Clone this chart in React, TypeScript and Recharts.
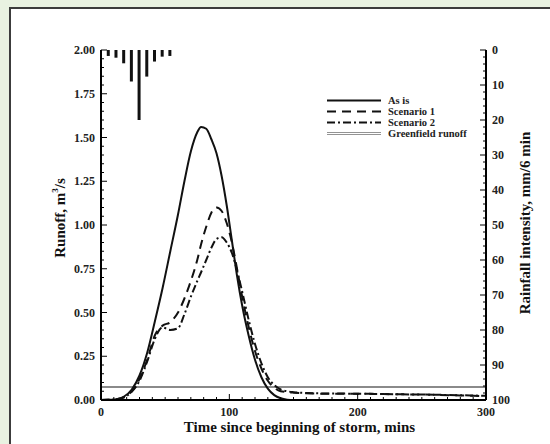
import { ComposedChart, Line, Bar, XAxis, YAxis, Legend } from 'recharts'

const FONT = '"Liberation Serif", "Times New Roman", serif'

// sampling times (min) for the runoff hydrographs
const runoffTime = [0, 6, 12, 18, 24, 30, 36, 42, 48, 54, 60, 65, 70, 75, 78, 82, 86, 90, 94, 98, 102, 106, 110, 115, 120, 125, 130, 135, 140, 145, 150, 160, 180, 200, 220, 240, 260, 280, 300]

// runoff, m3/s
const asIs = [0, 0.001, 0.005, 0.02, 0.06, 0.14, 0.27, 0.45, 0.64, 0.85, 1.06, 1.25, 1.42, 1.53, 1.56, 1.55, 1.49, 1.41, 1.28, 1.11, 0.91, 0.71, 0.54, 0.37, 0.23, 0.13, 0.065, 0.028, 0.01, 0.002, 0, 0, 0, 0, 0, 0, 0, 0, 0]
const scenario1 = [0, 0.001, 0.004, 0.017, 0.05, 0.12, 0.23, 0.37, 0.425, 0.445, 0.5, 0.58, 0.68, 0.8, 0.89, 0.99, 1.07, 1.1, 1.08, 1.01, 0.9, 0.75, 0.59, 0.42, 0.28, 0.18, 0.11, 0.07, 0.05, 0.045, 0.042, 0.038, 0.036, 0.036, 0.034, 0.032, 0.03, 0.026, 0.022]
const scenario2 = [0, 0.001, 0.004, 0.015, 0.048, 0.11, 0.22, 0.35, 0.415, 0.4, 0.41, 0.49, 0.59, 0.68, 0.73, 0.8, 0.87, 0.92, 0.93, 0.9, 0.84, 0.74, 0.62, 0.46, 0.32, 0.21, 0.13, 0.085, 0.06, 0.05, 0.045, 0.04, 0.037, 0.036, 0.034, 0.032, 0.03, 0.027, 0.024]

const greenfieldTime = [0, 300]
const greenfield = [0.075, 0.075]

// rainfall, mm/6 min
const rainTime = [6, 12, 18, 24, 30, 36, 42, 48, 54]
const rain = [1.7, 2.2, 3.8, 9, 20, 7.6, 3.3, 1.9, 1.7]

// tick labels
const runoffTicks = [0, 0.25, 0.5, 0.75, 1, 1.25, 1.5, 1.75, 2]
const rainTicks = [0, 10, 20, 30, 40, 50, 60, 70, 80, 90, 100]
const timeTicks = [0, 100, 200, 300]

const runoffMinor = Array.from({ length: 41 }, (_, i) => +(i * 0.05).toFixed(2))
const rainMinor = Array.from({ length: 51 }, (_, i) => i * 2)
const timeMinor = Array.from({ length: 31 }, (_, i) => i * 10)

const legendItems = [
  { name: 'As is', dash: undefined },
  { name: 'Scenario 1', dash: '9 6' },
  { name: 'Scenario 2', dash: '8 3 2 3' },
  { name: 'Greenfield runoff', dash: undefined },
]

function buildRows() {
  const map = new Map<number, any>()
  const put = (times: number[], values: number[], key: string) => {
    times.forEach((t, i) => {
      const row = map.get(t) ?? { t }
      row[key] = values[i]
      map.set(t, row)
    })
  }
  put(runoffTime, asIs, 'asIs')
  put(runoffTime, scenario1, 's1')
  put(runoffTime, scenario2, 's2')
  put(greenfieldTime, greenfield, 'green')
  put(rainTime, rain, 'rain')
  return [...map.values()].sort((a, b) => a.t - b.t)
}

const data = buildRows()

const tickText = { fontFamily: FONT, fontWeight: 700, fontSize: 12, fill: '#222' }

function LeftTick({ x, y, payload }: any) {
  const major = runoffTicks.includes(payload.value)
  return (
    <g>
      <line x1={x} x2={x + (major ? 6 : 3)} y1={y} y2={y} stroke="#000" strokeWidth={1} />
      {major && (
        <text x={x - 6} y={y} dy={4} textAnchor="end" {...tickText}>
          {payload.value.toFixed(2)}
        </text>
      )}
    </g>
  )
}

function RightTick({ x, y, payload }: any) {
  const major = rainTicks.includes(payload.value)
  return (
    <g>
      <line x1={x} x2={x - (major ? 6 : 3)} y1={y} y2={y} stroke="#000" strokeWidth={1} />
      {major && (
        <text x={x + 6} y={y} dy={4} textAnchor="start" {...tickText}>
          {payload.value}
        </text>
      )}
    </g>
  )
}

function BottomTick({ x, y, payload }: any) {
  const major = timeTicks.includes(payload.value)
  return (
    <g>
      <line x1={x} x2={x} y1={y} y2={y - (major ? 6 : 3)} stroke="#000" strokeWidth={1} />
      {major && (
        <text x={x} y={y + 16} textAnchor="middle" {...tickText}>
          {payload.value}
        </text>
      )}
    </g>
  )
}

const titleStyle = { fontFamily: FONT, fontWeight: 700, fontSize: 15, fill: '#111' }

function renderLegend() {
  return (
    <div style={{ fontFamily: FONT, fontWeight: 700, fontSize: 10.5, color: '#222', lineHeight: '11px' }}>
      {legendItems.map((item) => (
        <div key={item.name} style={{ display: 'flex', alignItems: 'center', height: 11 }}>
          <svg width={54} height={11}>
            {item.name === 'Greenfield runoff' ? (
              <>
                <line x1={0} x2={54} y1={4.5} y2={4.5} stroke="#777" strokeWidth={0.8} />
                <line x1={0} x2={54} y1={6.5} y2={6.5} stroke="#777" strokeWidth={0.8} />
              </>
            ) : (
              <line x1={0} x2={54} y1={5.5} y2={5.5} stroke="#111" strokeWidth={2} strokeDasharray={item.dash} />
            )}
          </svg>
          <span style={{ marginLeft: 7 }}>{item.name}</span>
        </div>
      ))}
    </div>
  )
}

export default function App() {
  return (
    <div style={{ position: 'absolute', left: 0, top: 0, width: 550, height: 444, background: '#e9f2e1', overflow: 'hidden' }}>
      <div
        style={{
          position: 'absolute', left: 9, top: 7, right: 0, bottom: 0, background: '#fff',
          borderLeft: '2px solid #3c3c3c', borderTop: '2px solid #3c3c3c',
        }}
      />
      <div style={{ position: 'absolute', left: 0, top: 0 }}>
        <ComposedChart width={550} height={444} data={data} margin={{ top: 50, right: 0, bottom: 0, left: 0 }}>
          <XAxis
            dataKey="t"
            type="number"
            domain={[0, 300]}
            ticks={timeMinor}
            interval={0}
            height={44}
            tickSize={0}
            tickMargin={0}
            tick={BottomTick}
            axisLine={{ stroke: '#000', strokeWidth: 2 }}
            label={(props: any) => {
              const vb = props.viewBox
              return (
                <text x={vb.x + vb.width / 2 + 6} y={vb.y + 27} dominantBaseline="central" textAnchor="middle" {...titleStyle}>
                  Time since beginning of storm, mins
                </text>
              )
            }}
          />
          <XAxis xAxisId="top" dataKey="t" type="number" domain={[0, 300]} orientation="top" height={0} tick={false} tickLine={false} axisLine={{ stroke: '#000', strokeWidth: 2 }} />
          <YAxis
            yAxisId="runoff"
            domain={[0, 2]}
            ticks={runoffMinor}
            interval={0}
            width={101}
            tickSize={0}
            tickMargin={0}
            tick={LeftTick}
            axisLine={{ stroke: '#000', strokeWidth: 2 }}
            label={(props: any) => {
              const vb = props.viewBox
              const cx = vb.x + vb.width - 41
              const cy = vb.y + vb.height / 2 - 7
              return (
                <text x={cx} y={cy} transform={`rotate(-90 ${cx} ${cy})`} dominantBaseline="central" textAnchor="middle" {...titleStyle}>
                  Runoff, m<tspan fontSize={9} dy={-5}>3</tspan>
                  <tspan dy={5}>/s</tspan>
                </text>
              )
            }}
          />
          <YAxis
            yAxisId="rain"
            orientation="right"
            reversed
            domain={[0, 100]}
            ticks={rainMinor}
            interval={0}
            width={64}
            tickSize={0}
            tickMargin={0}
            tick={RightTick}
            axisLine={{ stroke: '#000', strokeWidth: 2 }}
            label={(props: any) => {
              const vb = props.viewBox
              const cx = vb.x + 39
              const cy = vb.y + vb.height / 2 - 2
              return (
                <text x={cx} y={cy} transform={`rotate(-90 ${cx} ${cy})`} dominantBaseline="central" textAnchor="middle" {...titleStyle}>
                  Rainfall intensity, mm/6 min
                </text>
              )
            }}
          />
          <Legend
            layout="vertical"
            align="center"
            verticalAlign="middle"
            content={renderLegend}
            wrapperStyle={{ left: 327, top: 95, width: 170 }}
          />
          <Bar yAxisId="rain" dataKey="rain" name="Rainfall" fill="#111" barSize={3} isAnimationActive={false} />
          <Line yAxisId="runoff" dataKey="green" name="Greenfield runoff" stroke="#8a8a8a" strokeWidth={2} dot={false} connectNulls isAnimationActive={false} />
          <Line yAxisId="runoff" type="monotone" dataKey="s2" name="Scenario 2" stroke="#111" strokeWidth={2} strokeDasharray="8 3 2 3" dot={false} connectNulls isAnimationActive={false} />
          <Line yAxisId="runoff" type="monotone" dataKey="s1" name="Scenario 1" stroke="#111" strokeWidth={2} strokeDasharray="9 6" dot={false} connectNulls isAnimationActive={false} />
          <Line yAxisId="runoff" type="monotone" dataKey="asIs" name="As is" stroke="#111" strokeWidth={2} dot={false} connectNulls isAnimationActive={false} />
        </ComposedChart>
      </div>
    </div>
  )
}
